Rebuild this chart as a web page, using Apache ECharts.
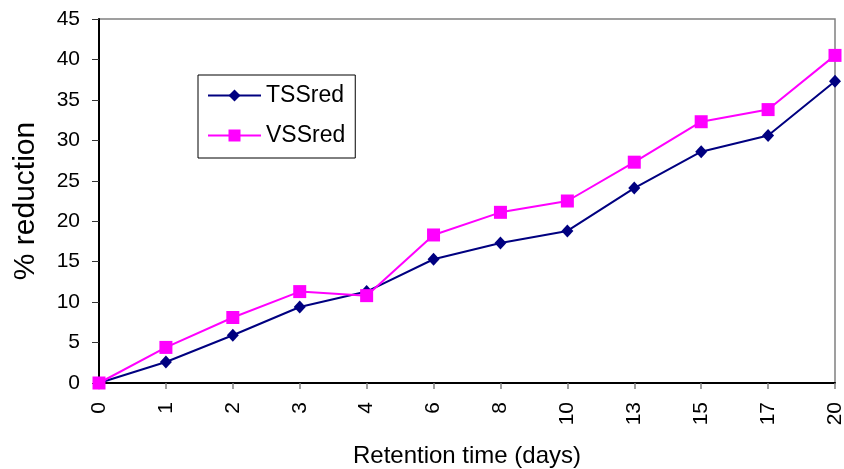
<!DOCTYPE html>
<html>
<head>
<meta charset="utf-8">
<script src="https://cdn.jsdelivr.net/npm/echarts@6/dist/echarts.min.js"></script>
<style>
  html, body { margin: 0; padding: 0; background: #fff; }
  #chart { width: 844px; height: 469px; }
</style>
</head>
<body>
<div id="chart"></div>
<script>
// Retention time (days) on the category axis
const days = ['0', '1', '2', '3', '4', '6', '8', '10', '13', '15', '17', '20'];
// Percent reduction of total and volatile suspended solids
const tssRed = [0, 2.6, 5.9, 9.4, 11.3, 15.3, 17.3, 18.8, 24.1, 28.6, 30.6, 37.3];
const vssRed = [0, 4.4, 8.1, 11.3, 10.8, 18.3, 21.1, 22.5, 27.3, 32.3, 33.8, 40.5];
const yTicks = { min: 0, max: 45, interval: 5 };

const font = 'Liberation Sans, Arial, sans-serif';
const chart = echarts.init(document.getElementById('chart'), null, { renderer: 'canvas' });

chart.setOption({
  animation: false,
  backgroundColor: '#ffffff',
  grid: {
    left: 99, right: 9, top: 19, bottom: 86,
    containLabel: false,
    outerBoundsMode: 'none',
    show: true, borderColor: '#808080', borderWidth: 1.5, backgroundColor: 'transparent'
  },
  legend: {
    orient: 'vertical',
    left: 198, top: 75,
    padding: [9, 10, 11, 9],
    itemGap: 17,
    itemWidth: 53, itemHeight: 15,
    borderColor: '#000', borderWidth: 1,
    textStyle: { fontFamily: font, fontSize: 23, color: '#000', lineHeight: 22, padding: [0, 0, 0, 0] },
    data: ['TSSred', 'VSSred']
  },
  xAxis: {
    type: 'category',
    data: days,
    boundaryGap: false,
    name: 'Retention time (days)',
    nameLocation: 'middle',
    nameGap: 61,
    nameTextStyle: { fontFamily: font, fontSize: 24, color: '#000' },
    axisLine: { lineStyle: { color: '#000', width: 2 } },
    axisTick: { show: true, alignWithLabel: true, length: 6, lineStyle: { color: '#808080', width: 1.5 } },
    axisLabel: { rotate: 90, margin: 19, fontFamily: font, fontSize: 21, color: '#000', interval: 0 },
    splitLine: { show: false }
  },
  yAxis: {
    type: 'value',
    min: yTicks.min, max: yTicks.max, interval: yTicks.interval,
    name: '% reduction',
    nameLocation: 'middle',
    nameGap: 58,
    nameTextStyle: { fontFamily: font, fontSize: 30, color: '#000' },
    axisLine: { show: true, lineStyle: { color: '#000', width: 2 } },
    axisTick: { show: true, length: 7, lineStyle: { color: '#333', width: 1 } },
    axisLabel: { margin: 19, fontFamily: font, fontSize: 21, color: '#000' },
    splitLine: { show: false }
  },
  series: [
    {
      name: 'TSSred', type: 'line', data: tssRed,
      symbol: 'diamond', symbolSize: [12, 13],
      lineStyle: { color: '#000080', width: 2 },
      itemStyle: { color: '#000080' },
      z: 2
    },
    {
      name: 'VSSred', type: 'line', data: vssRed,
      symbol: 'rect', symbolSize: 13,
      lineStyle: { color: '#ff00ff', width: 2 },
      itemStyle: { color: '#ff00ff' },
      z: 3
    }
  ]
});
</script>
</body>
</html>
